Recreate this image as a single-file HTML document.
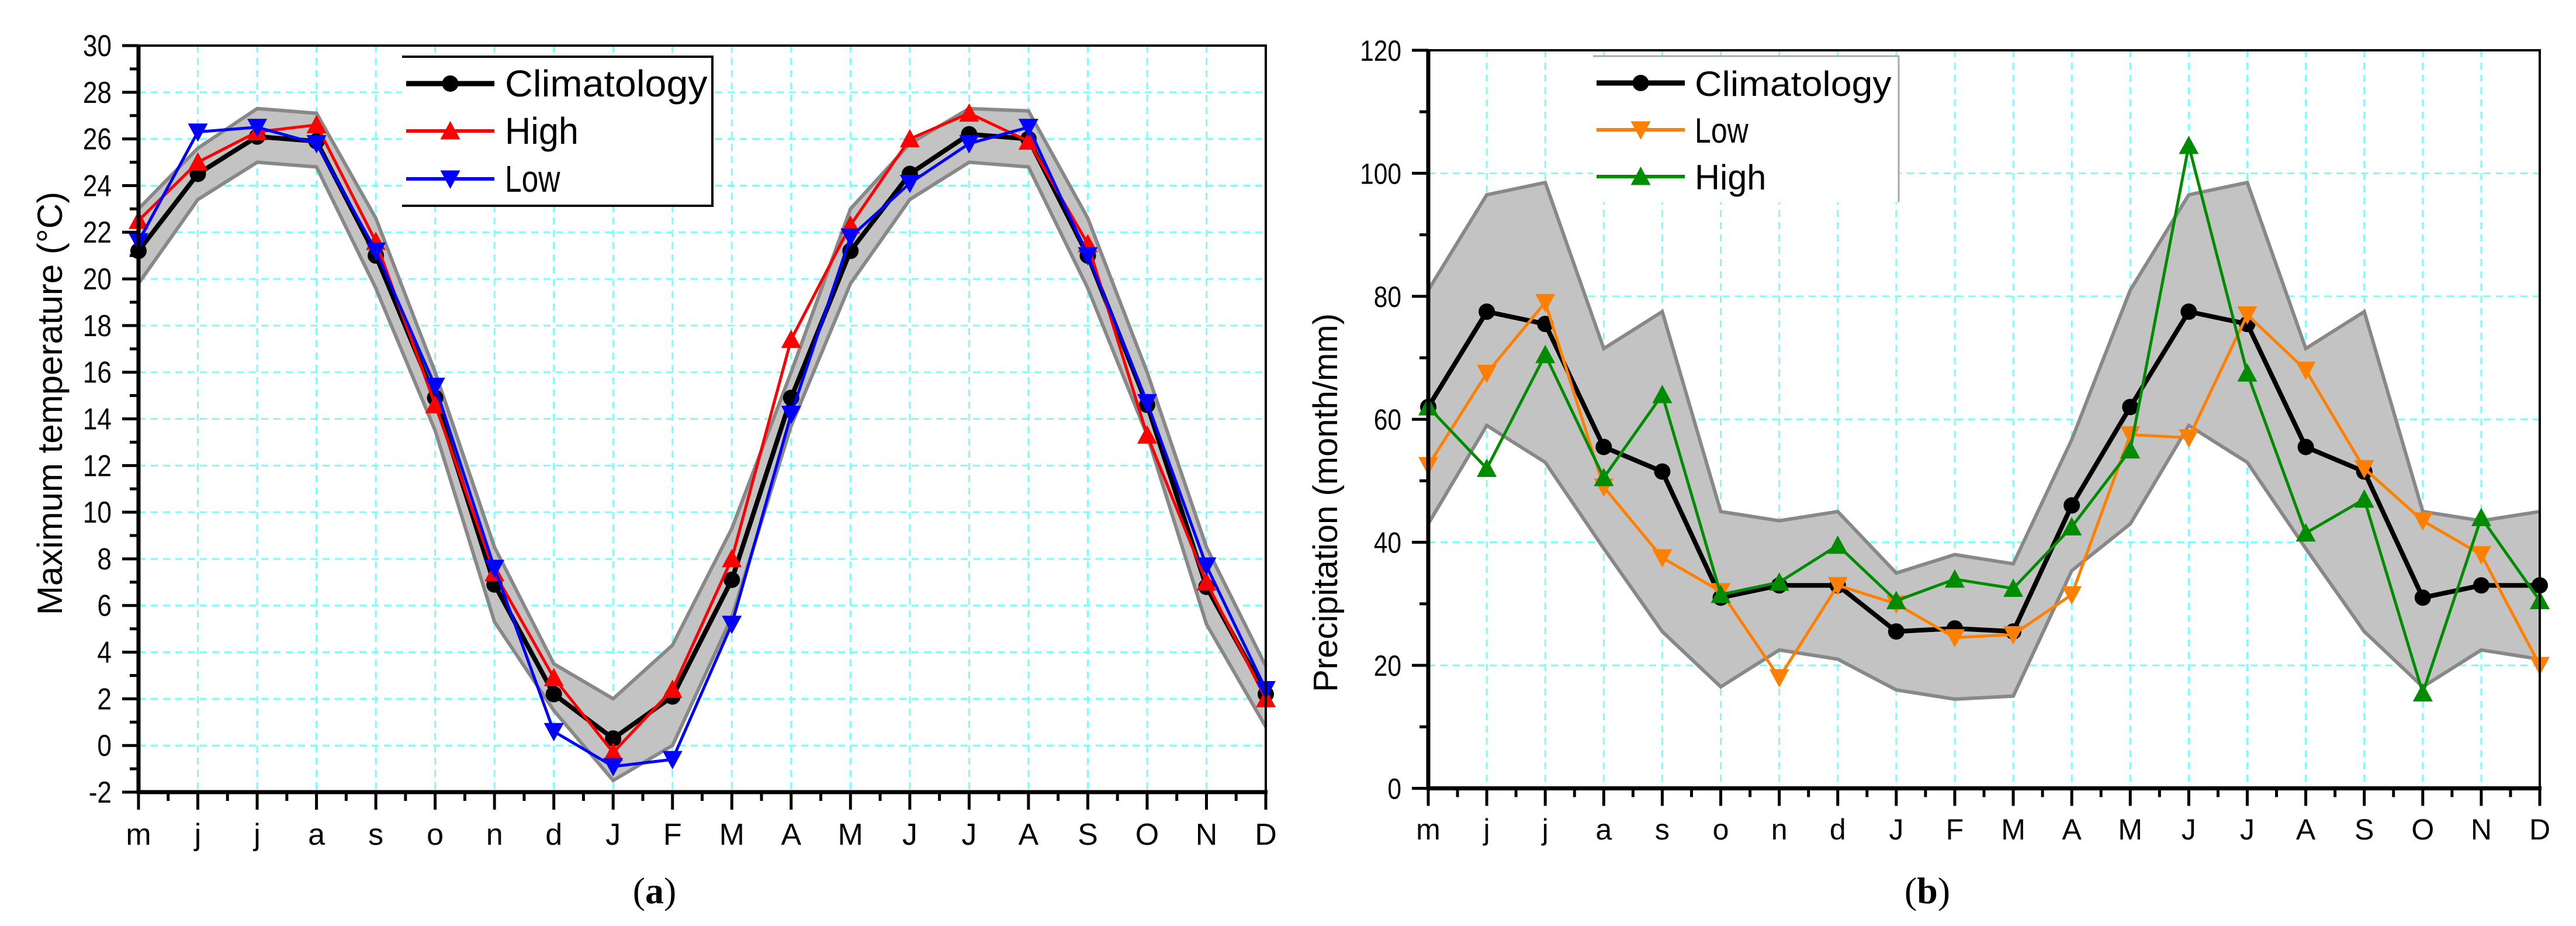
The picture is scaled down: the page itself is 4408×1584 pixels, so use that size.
<!DOCTYPE html>
<html><head><meta charset="utf-8"><style>
html,body{margin:0;padding:0;background:#fff;}
svg{display:block;font-family:"Liberation Sans",sans-serif;}
</style></head><body>
<svg id="fig" width="4408" height="1584" viewBox="0 0 4408 1584" xmlns="http://www.w3.org/2000/svg">
<rect width="4408" height="1584" fill="#fff"/>
<g id="chartA"></g>
<g id="chartB"></g>
<text x="1120" y="1545" font-family="Liberation Serif,serif" font-size="64" text-anchor="middle">(<tspan font-weight="bold">a</tspan>)</text>
<text x="3298" y="1545" font-family="Liberation Serif,serif" font-size="64" text-anchor="middle">(<tspan font-weight="bold">b</tspan>)</text>
</svg>
<script>
const months = ["m","j","j","a","s","o","n","d","J","F","M","A","M","J","J","A","S","O","N","D"];
// Chart (a) data
const tempClim = [21.2,24.5,26.1,25.9,21.0,14.9,6.9,2.2,0.3,2.1,7.1,14.9,21.2,24.5,26.2,26.0,21.0,14.6,6.8,2.2];
const tempHigh = [22.5,25.0,26.3,26.6,21.6,14.6,7.4,2.9,-0.3,2.4,8.0,17.4,22.3,26.0,27.1,25.9,21.5,13.3,7.0,2.0];
const tempLow = [21.6,26.3,26.5,25.8,21.2,15.4,7.6,0.6,-0.9,-0.6,5.2,14.2,21.8,24.1,25.8,26.5,21.0,14.7,7.7,2.4];
const tempBandUpper = [23.0,25.6,27.3,27.1,22.6,16.0,8.5,3.5,2.0,4.3,9.3,16.0,23.0,25.8,27.3,27.2,22.6,16.0,8.5,3.4];
const tempBandLower = [19.8,23.4,25.0,24.8,19.6,13.5,5.3,1.5,-1.5,0.0,5.5,13.7,19.8,23.4,25.0,24.8,19.6,13.3,5.2,0.8];
const tempTicks = [-2,0,2,4,6,8,10,12,14,16,18,20,22,24,26,28,30];
// Chart (b) data
const precClim = [62,77.5,75.5,55.5,51.5,31,33,33,25.5,26,25.5,46,62,77.5,75.5,55.5,51.5,31,33,33];
const precLow = [52.5,67.5,79,49,37.5,32,18,33,30,24.5,25,31.5,57.5,57,77,68,52,43.5,38,20];
const precHigh = [62,52,70.5,50.5,64,31.5,33.5,39.5,30.5,34,32.5,42.5,55,104.5,67.5,41.5,47,15.5,44,30.5];
const precBandUpper = [81,96.5,98.5,71.5,77.5,45,43.5,45,35,38,36.5,56.7,81,96.5,98.5,71.5,77.5,45,43.5,45];
const precBandLower = [43,59,53,39,25.5,16.5,22.5,21,16,14.5,15,35.4,43,59,53,39,25.5,16.5,22.5,21];
const precTicks = [0,20,40,60,80,100,120];

const NS="http://www.w3.org/2000/svg";
function mk(parent,tag,attrs,text){const e=document.createElementNS(NS,tag);for(const k in attrs)e.setAttribute(k,attrs[k]);if(text!==undefined)e.textContent=text;parent.appendChild(e);return e;}

function drawChart(g,cfg){
  const {x0,x1,yTop,yBot,vmin,vmax,ticks,minorStep}=cfg;
  const xs=i=>x0+(x1-x0)*i/(months.length-1);
  const ys=v=>yBot-(v-vmin)/(vmax-vmin)*(yBot-yTop);
  // grid
  for(let i=1;i<months.length-1;i++){
    const l=mk(g,'line',{x1:xs(i),x2:xs(i),y1:yTop,y2:yBot,stroke:'#7ff',"stroke-width":3,"stroke-dasharray":"12 9"});
    
    
  }
  ticks.forEach(t=>{ if(t===vmin||t===vmax) return;
    const l=mk(g,'line',{x1:x0,x2:x1,y1:ys(t),y2:ys(t),stroke:'#7ff',"stroke-width":3,"stroke-dasharray":"12 9"});
    
    
  });
  // band
  let pts=cfg.upper.map((v,i)=>xs(i)+','+ys(v)).concat(cfg.lower.map((v,i)=>xs(i)+','+ys(v)).reverse());
  const band=mk(g,'polygon',{points:pts.join(' '),fill:'#c3c3c3',stroke:'none'});
  
  
  [cfg.upper,cfg.lower].forEach(arr=>{
    const p=mk(g,'polyline',{points:arr.map((v,i)=>xs(i)+','+ys(v)).join(' '),fill:'none',stroke:'#888',"stroke-width":6});
    
    
  });
  // series
  cfg.series.forEach(s=>{
    const sg=mk(g,'g',{});
    
    
    mk(sg,'polyline',{points:s.data.map((v,i)=>xs(i)+','+ys(v)).join(' '),fill:'none',stroke:s.color,"stroke-width":s.w,"stroke-linejoin":"round"});
    s.data.forEach((v,i)=>{const m=marker(sg,s.marker,xs(i),ys(v),s.color);
      
      });
  });
  // axes box
  const box=mk(g,'rect',{x:x0,y:yTop,width:x1-x0,height:yBot-yTop,fill:'none',stroke:'#000',"stroke-width":4});
  
  
  mk(g,'line',{x1:x0,x2:x0,y1:yTop,y2:yBot+3,stroke:'#000',"stroke-width":7});
  mk(g,'line',{x1:x0-3,x2:x1+3,y1:yBot,y2:yBot,stroke:'#000',"stroke-width":7});
  // y ticks
  for(let v=vmin;v<=vmax+1e-9;v+=minorStep){
    const major=ticks.some(t=>Math.abs(t-v)<1e-6);
    mk(g,'line',{x1:x0,x2:x0-(major?28:15),y1:ys(v),y2:ys(v),stroke:'#000',"stroke-width":5});
  }
  ticks.forEach(t=>{const tx=mk(g,'text',{x:x0-46,y:ys(t)+18,"font-size":cfg.tickFont,"text-anchor":"end",transform:`translate(${x0-46} 0) scale(0.85 1) translate(${-(x0-46)} 0)`},String(t));
    
    });
  // x ticks
  const step=(x1-x0)/(months.length-1);
  for(let i=0;i<months.length;i++){
    mk(g,'line',{x1:xs(i),x2:xs(i),y1:yBot,y2:yBot+30,stroke:'#000',"stroke-width":5});
    if(i<months.length-1) mk(g,'line',{x1:xs(i)+step/2,x2:xs(i)+step/2,y1:yBot,y2:yBot+15,stroke:'#000',"stroke-width":5});
    const tx=mk(g,'text',{x:xs(i),y:cfg.xLabelY,"font-size":cfg.tickFont,"text-anchor":"middle"},months[i]);
    
    
  }
  // y title
  const t=mk(g,'text',{x:0,y:0,"font-size":cfg.titleFont,"text-anchor":"middle",transform:`translate(${cfg.titleX} ${cfg.titleY}) rotate(-90)`},cfg.title);
  
  
  // legend
  const L=cfg.legend;
  const lg=mk(g,'g',{});
  
  
  mk(lg,'rect',{x:L.x,y:L.y,width:L.w,height:L.h,fill:'#fff',stroke:'none'});
  mk(lg,'polyline',{points:`${L.x},${L.y} ${L.x+L.w},${L.y} ${L.x+L.w},${L.y+L.h}`+(L.bottom?` ${L.x},${L.y+L.h}`:''),fill:'none',stroke:L.bottom?'#000':'#aaa',"stroke-width":L.bottom?4:3});
  cfg.legendOrder.forEach((s,k)=>{
    const cy=L.rows[k];
    const eg=mk(lg,'g',{});
    
    
    mk(eg,'line',{x1:L.lx0,x2:L.lx1,y1:cy,y2:cy,stroke:s.color,"stroke-width":s.w+1});
    marker(eg,s.marker,(L.lx0+L.lx1)/2,cy,s.color);
    mk(eg,'text',{x:L.tx,y:cy+22,"font-size":L.font,textLength:s.name.length*L.cw,lengthAdjust:"spacingAndGlyphs"},s.name);
  });
}
function marker(g,type,x,y,c){
  if(type==='circle') return mk(g,'circle',{cx:x,cy:y,r:14,fill:c});
  const s=17;
  if(type==='up') return mk(g,'polygon',{points:`${x},${y-s} ${x+s},${y+s*0.85} ${x-s},${y+s*0.85}`,fill:c});
  return mk(g,'polygon',{points:`${x},${y+s} ${x+s},${y-s*0.85} ${x-s},${y-s*0.85}`,fill:c});
}
const SA={clim:{name:'Climatology',data:tempClim,color:'#000',w:8,marker:'circle'},
  high:{name:'High',data:tempHigh,color:'#f00',w:5,marker:'up'},
  low:{name:'Low',data:tempLow,color:'#00f',w:5,marker:'down'}};
drawChart(document.getElementById('chartA'),{x0:237,x1:2166,yTop:78,yBot:1355,vmin:-2,vmax:30,ticks:tempTicks,minorStep:1,
  upper:tempBandUpper,lower:tempBandLower,series:[SA.clim,SA.high,SA.low],
  tickFont:52,xLabelY:1445,title:'Maximum temperature (°C)',titleFont:60,titleX:106,titleY:690,
  legend:{x:688,y:97,w:531,h:255,bottom:true,rows:[143,224,306],lx0:695,lx1:846,tx:864,font:64,cw:31.5},
  legendOrder:[SA.clim,SA.high,SA.low]});
const SB={clim:{name:'Climatology',data:precClim,color:'#000',w:8,marker:'circle'},
  low:{name:'Low',data:precLow,color:'#ff8000',w:5,marker:'down'},
  high:{name:'High',data:precHigh,color:'#008c00',w:5,marker:'up'}};
drawChart(document.getElementById('chartB'),{x0:2444,x1:4346,yTop:86,yBot:1348.5,vmin:0,vmax:120,ticks:precTicks,minorStep:10,
  upper:precBandUpper,lower:precBandLower,series:[SB.clim,SB.low,SB.high],
  tickFont:50,xLabelY:1436,title:'Precipitation (month/mm)',titleFont:58,titleX:2288,titleY:860,
  legend:{x:2726,y:96,w:523,h:250,bottom:false,rows:[142,222,302],lx0:2732,lx1:2883,tx:2900,font:60,cw:30.6},
  legendOrder:[SB.clim,SB.low,SB.high]});
</script>
</body></html>
